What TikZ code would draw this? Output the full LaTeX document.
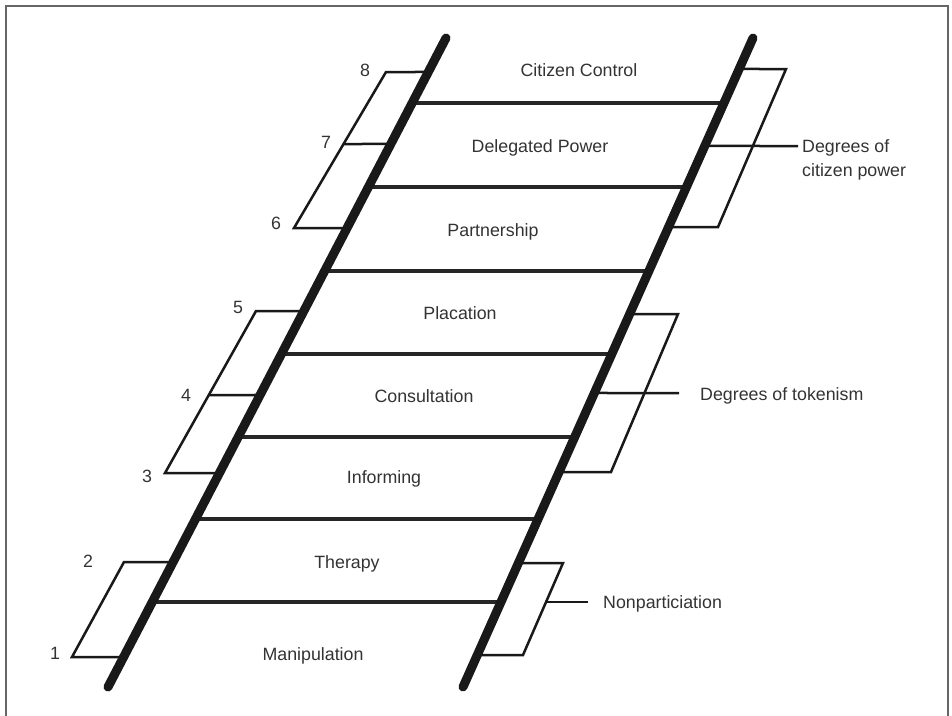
\documentclass[tikz,border=0pt]{standalone}
\usepackage{fontspec}
\setmainfont{Liberation Sans}
\usepackage{tikz}
\usetikzlibrary{calc}

\begin{document}
\begin{tikzpicture}[x=1pt,y=-1pt]
		\tikzstyle{rail}=[line width=9pt,line cap=round,draw=black!90]
		\tikzstyle{rung}=[line width=3.8pt,draw=black!85]
		\tikzstyle{brace}=[line width=2.5pt,draw=black!90]
		\tikzstyle{rungtext}=[text=black!80,inner sep=0pt,font=\fontsize{17.8}{24}\selectfont]
		\tikzstyle{num}=[rungtext,anchor=base]
		\tikzstyle{side}=[rungtext,anchor=base west]
		
		\useasboundingbox (0,0) rectangle (952,715);
		\draw[black!60,line width=1.5pt] (6,716) -- (6,6) -- (948,6) -- (948,716);
		
		\coordinate (lt) at (446,38);
		\coordinate (lb) at (108,687);
		\coordinate (rt) at (753,38);
		\coordinate (rb) at (463,687);
		
		\foreach \y in {103,187,271,354,437,519,602}
			\draw[rung] ($(lt)!{(\y-38)/649}!(lb)$) -- ($(rt)!{(\y-38)/649}!(rb)$);
		
		\foreach \n/\y in {l8/72,l7/144,l6/228,l5/311,l4/395,l3/473,l2/562,l1/657}
			\coordinate (\n) at ($(lt)!{(\y-38)/649}!(lb)$);
		\foreach \n/\y in {pa/69,pb/146,pc/227,ta/314,tb/393,tc/472,na/563,nb/655}
			\coordinate (\n) at ($(rt)!{(\y-38)/649}!(rb)$);
		
		\draw[brace] (l8) -- (386,72) -- (294,228) -- (l6);
		\draw[brace] (343.5,144) -- (l7);
		\draw[brace] (l5) -- (256,311) -- (165,473) -- (l3);
		\draw[brace] (209,395) -- (l4);
		\draw[brace] (l2) -- (124,562) -- (72,657) -- (l1);
		
		\coordinate (powerend) at (798,146);
		\coordinate (tokenend) at (679,393);
		\coordinate (nonstart) at (546.5,602);
		\coordinate (nonend) at (588,602);
		\draw[brace] (pa) -- (786,69) -- (718,227) -- (pc);
		\draw[brace] (pb) -- (powerend);
		\draw[brace] (ta) -- (678,314) -- (611,472) -- (tc);
		\draw[brace] (tb) -- (tokenend);
		\draw[brace] (na) -- (563,563) -- (523,655) -- (nb);
		\draw[brace] (nonstart) -- (nonend);
		
		\draw[rail] (lt) -- (lb);
		\draw[rail] (rt) -- (rb);
		
		\node[rungtext,anchor=base] (control) at (579,76) {Citizen Control};
		\node[rungtext,anchor=base] (delegated) at (540,152.5) {Delegated Power};
		\node[rungtext,anchor=base] (partner) at (493,236.5) {Partnership};
		\node[rungtext,anchor=base] (placation) at (460,319) {Placation};
		\node[rungtext,anchor=base] (consult) at (424,402) {Consultation};
		\node[rungtext,anchor=base] (inform) at (384,483) {Informing};
		\node[rungtext,anchor=base] (therapy) at (347,568) {Therapy};
		\node[rungtext,anchor=base] (manip) at (313,660) {Manipulation};
		
		\node[num] (n8) at (365,76) {8};
		\node[num] (n7) at (326,148) {7};
		\node[num] (n6) at (276,229) {6};
		\node[num] (n5) at (238,313) {5};
		\node[num] (n4) at (186,401) {4};
		\node[num] (n3) at (147,482) {3};
		\node[num] (n2) at (88,567) {2};
		\node[num] (n1) at (55,659) {1};
		
		\node[rungtext,anchor=north west,align=left] (power) at (802,139) {Degrees of\\citizen power};
		\node[side] (token) at (700,400) {Degrees of tokenism};
		\node[side] (nonpart) at (603,608) {Nonparticiation};
		\end{tikzpicture}
\end{document}
